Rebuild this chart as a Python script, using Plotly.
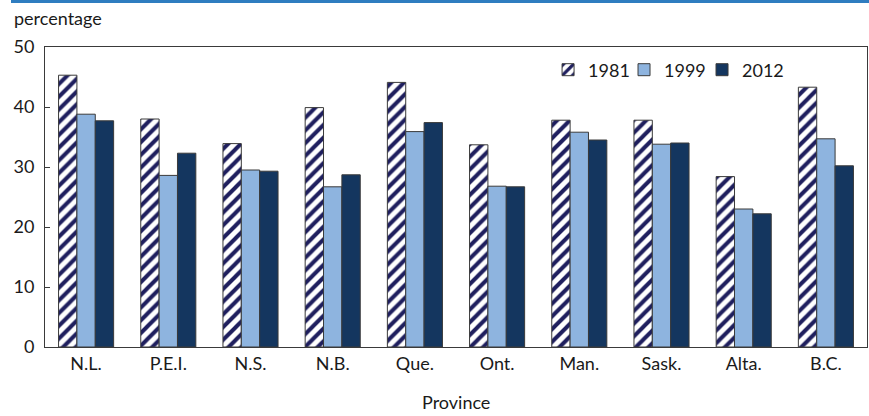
import plotly.graph_objects as go

# Share by province, three survey years (percent)
provinces = ["N.L.", "P.E.I.", "N.S.", "N.B.", "Que.", "Ont.", "Man.", "Sask.", "Alta.", "B.C."]
share_1981 = [45.3, 38.0, 33.9, 39.9, 44.1, 33.7, 37.8, 37.8, 28.4, 43.3]
share_1999 = [38.8, 28.6, 29.5, 26.7, 35.9, 26.8, 35.8, 33.8, 23.0, 34.7]
share_2012 = [37.7, 32.3, 29.3, 28.7, 37.4, 26.7, 34.5, 34.0, 22.2, 30.2]

FONT = "Lato, 'Open Sans', sans-serif"
TEXT = "#1a1a1a"
EDGE = "#3a3a3a"
FS = 18

fig = go.Figure()
fig.add_trace(go.Bar(
    name="1981", x=provinces, y=share_1981, legend="legend",
    marker=dict(color="white",
                pattern=dict(shape="/", fgcolor="#1f1f5e", bgcolor="white",
                             size=9, solidity=0.45, fgopacity=1, fillmode="replace"),
                line=dict(color=EDGE, width=1)),
))
fig.add_trace(go.Bar(
    name="1999", x=provinces, y=share_1999, legend="legend2",
    marker=dict(color="#8eb4df", line=dict(color=EDGE, width=1)),
))
fig.add_trace(go.Bar(
    name="2012", x=provinces, y=share_2012, legend="legend3",
    marker=dict(color="#14365f", line=dict(color=EDGE, width=1)),
))

# one small legend per year so each key sits at its own spot along the top row
legend_style = dict(orientation="h", y=0.985, xanchor="left", yanchor="top",
                    bgcolor="rgba(0,0,0,0)", font=dict(size=FS, color=TEXT))

fig.update_layout(
    width=869, height=416,
    margin=dict(l=45, r=2, t=47, b=69),
    paper_bgcolor="white", plot_bgcolor="white",
    font=dict(family=FONT, size=FS, color=TEXT),
    barmode="group", bargap=0.33, bargroupgap=0,
    showlegend=True,
    legend=dict(x=0.612, **legend_style),
    legend2=dict(x=0.7044, **legend_style),
    legend3=dict(x=0.7993, **legend_style),
    xaxis=dict(showline=True, linecolor=EDGE, linewidth=1, mirror=True,
               ticks="", showgrid=False, tickfont=dict(size=FS, color=TEXT)),
    yaxis=dict(range=[0, 50], tickvals=[0, 10, 20, 30, 40, 50],
               showline=True, linecolor=EDGE, linewidth=1, mirror=True,
               ticks="inside", ticklen=5, tickcolor=EDGE, showgrid=False,
               zeroline=False, ticklabelstandoff=6,
               tickfont=dict(size=FS, color=TEXT)),
    shapes=[dict(type="rect", xref="paper", yref="paper",
                 x0=-34 / 822, x1=1 + 2 / 822, y0=344 / 300, y1=347 / 300,
                 fillcolor="#2f7dc0", line=dict(width=0), layer="above")],
    annotations=[
        dict(text="percentage", xref="paper", yref="paper",
             x=-33 / 822, y=329 / 300, xanchor="left", yanchor="middle",
             showarrow=False, font=dict(size=FS, color=TEXT)),
        dict(text="Province", xref="paper", yref="paper",
             x=0.5, y=-55 / 300, xanchor="center", yanchor="middle",
             showarrow=False, font=dict(size=FS, color=TEXT)),
    ],
)

fig.write_html("out.html")
